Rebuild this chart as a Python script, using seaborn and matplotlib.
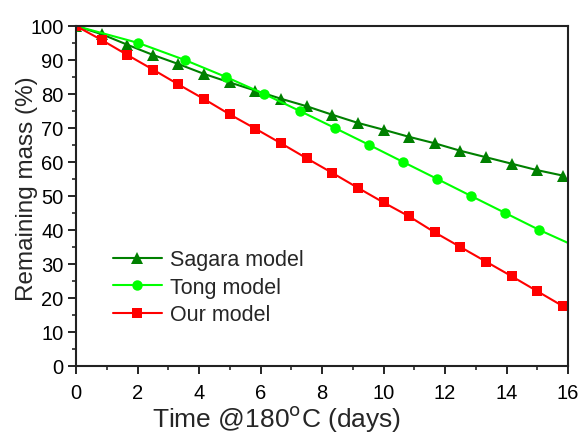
import matplotlib
matplotlib.use("Agg")
import matplotlib.pyplot as plt
import seaborn as sns
import pandas as pd
from matplotlib.ticker import MultipleLocator

# Data
sagara_t = [0, 0.833, 1.667, 2.5, 3.333, 4.167, 5.0, 5.833, 6.667, 7.5, 8.333,
            9.167, 10.0, 10.833, 11.667, 12.5, 13.333, 14.167, 15.0, 15.833]
sagara_m = [100, 97.6, 94.5, 91.5, 88.8, 85.9, 83.4, 81.0, 78.6, 76.4, 73.9,
            71.5, 69.5, 67.4, 65.5, 63.3, 61.4, 59.5, 57.6, 56.0]

tong_t = [0, 2.03, 3.54, 4.88, 6.12, 7.28, 8.42, 9.54, 10.64, 11.75, 12.85, 13.96, 15.07, 16.0]
tong_m = [100, 95, 90, 85, 80, 75, 70, 65, 60, 55, 50, 45, 40, 36.2]

our_t = sagara_t
our_m = [100, 95.9, 91.5, 87.2, 82.8, 78.5, 74.0, 69.8, 65.5, 61.1, 56.8,
         52.4, 48.1, 44.0, 39.3, 35.0, 30.7, 26.4, 22.0, 17.6]

labels = ["Sagara model", "Tong model", "Our model"]
colors = ["#008000", "#00ff00", "#ff0000"]

sns.set_style("ticks")
plt.rcParams["font.family"] = ["Liberation Sans", "DejaVu Sans"]

fig = plt.figure(figsize=(5.78, 4.35), dpi=100)
ax = fig.add_axes([76/578, 1-367/435, (568-76)/578, (367-27)/435])

df_s = pd.DataFrame({"t": sagara_t, "m": sagara_m})
df_t = pd.DataFrame({"t": tong_t, "m": tong_m})
df_o = pd.DataFrame({"t": our_t, "m": our_m})

sns.lineplot(data=df_s, x="t", y="m", ax=ax, color=colors[0], marker="^",
             markersize=8.5, markeredgewidth=0, lw=1.5, label=labels[0], sort=False)
sns.lineplot(data=df_t, x="t", y="m", ax=ax, color=colors[1], marker="o",
             markersize=7.5, markeredgewidth=0, lw=1.5, label=labels[1], sort=False,
             markevery=slice(0, len(tong_t)-1))
sns.lineplot(data=df_o, x="t", y="m", ax=ax, color=colors[2], marker="s",
             markersize=6.5, markeredgewidth=0, lw=1.5, label=labels[2], sort=False)

ax.set_xlim(0, 16)
ax.set_ylim(0, 100)
ax.xaxis.set_major_locator(MultipleLocator(2))
ax.xaxis.set_minor_locator(MultipleLocator(1))
ax.yaxis.set_major_locator(MultipleLocator(10))
ax.yaxis.set_minor_locator(MultipleLocator(5))
ax.tick_params(which="major", direction="out", length=5.5, width=1.2, labelsize=14.5,
               top=False, right=False, colors="black")
ax.tick_params(which="minor", direction="out", length=3, width=1.2, top=False, right=False)
ax.tick_params(axis="x", which="major", pad=7)
for s in ax.spines.values():
    s.set_visible(True)
    s.set_linewidth(1.5)
    s.set_color("#222222")

ax.set_xlabel("Time @180$^{\\mathrm{o}}$C (days)", fontsize=19)
ax.xaxis.label.set_va("baseline")
ax.xaxis.set_label_coords(0.4075, -0.177)
ax.set_ylabel("Remaining mass (%)", fontsize=17.5)
ax.yaxis.set_label_coords(-0.077, 0.5235)

leg = ax.legend(loc="upper left", bbox_to_anchor=(0.035, 0.40), frameon=False,
                fontsize=15.5, handlelength=2.3, handletextpad=0.35, labelspacing=0.3)

fig.savefig("out.png", dpi=100, facecolor="white")
